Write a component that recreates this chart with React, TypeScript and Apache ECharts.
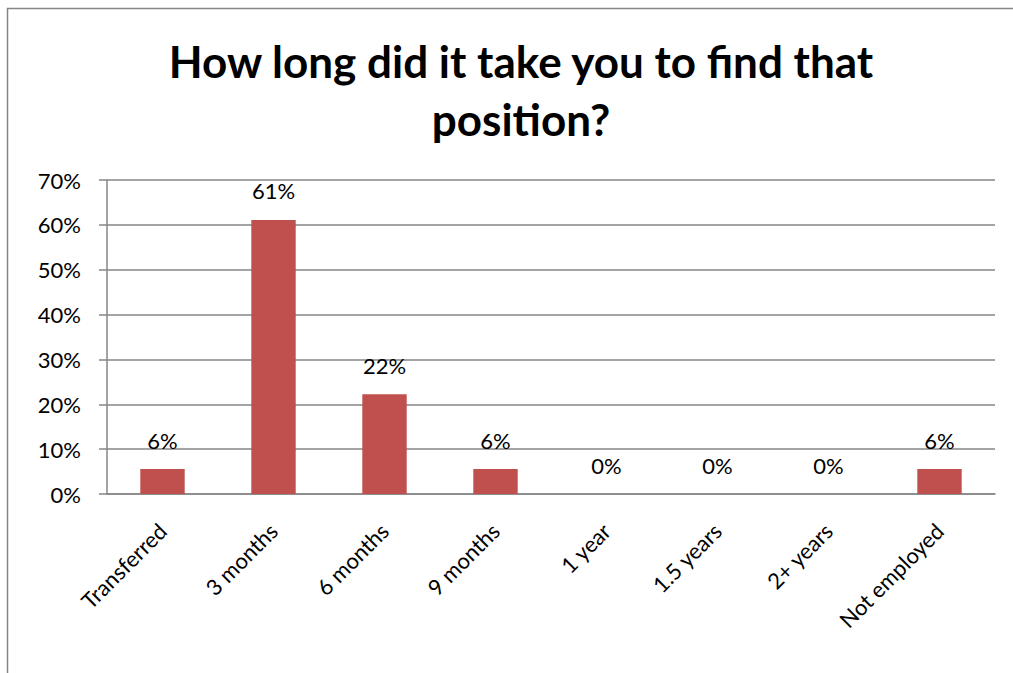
import React, { useEffect, useRef } from "react";
import * as echarts from "echarts";

const categories = ["Transferred", "3 months", "6 months", "9 months", "1 year", "1.5 years", "2+ years", "Not employed"];
const values = [5.56, 61.11, 22.22, 5.56, 0, 0, 0, 5.56];
const yTicks = [0, 10, 20, 30, 40, 50, 60, 70];
const titleText = "How long did it take you to find that\nposition?";

const FONT = "Lato, 'Open Sans', sans-serif";

export default function App() {
  const ref = useRef<HTMLDivElement>(null);
  useEffect(() => {
    if (!ref.current) return;
    const chart = echarts.init(ref.current, undefined, { renderer: "svg" });
    chart.setOption({
      animation: false,
      backgroundColor: "#ffffff",
      title: {
        text: titleText,
        left: 516,
        top: 27,
        textAlign: "center",
        textStyle: {
          fontFamily: FONT,
          fontWeight: "bold",
          fontSize: 44,
          lineHeight: 58,
          color: "#000000",
        },
      },
      graphic: [
        {
          type: "rect",
          shape: { x: 7.5, y: 8.5, width: 1100, height: 800 },
          style: { fill: "none", stroke: "#868686", lineWidth: 1.5 },
          silent: true,
          z: -1,
        },
      ],
      grid: { left: 107, right: 18, top: 180, bottom: 179, containLabel: false },
      xAxis: {
        type: "category",
        data: categories,
        axisLine: { show: true, lineStyle: { color: "#868686", width: 1.5 } },
        axisTick: { show: false },
        axisLabel: {
          rotate: 45,
          margin: 33,
          fontFamily: FONT,
          fontSize: 22,
          color: "#000000",
          interval: 0,
        },
      },
      yAxis: {
        type: "value",
        min: yTicks[0],
        max: yTicks[yTicks.length - 1],
        interval: 10,
        axisLine: { show: true, lineStyle: { color: "#868686", width: 1.5 } },
        axisTick: { show: true, length: 8, lineStyle: { color: "#868686", width: 1.5 } },
        splitLine: { show: true, lineStyle: { color: "#868686", width: 1.5 } },
        axisLabel: {
          formatter: (v: number) => `${v}%`,
          margin: 26,
          fontFamily: FONT,
          fontSize: 22,
          color: "#000000",
        },
      },
      series: [
        {
          type: "bar",
          data: values,
          barWidth: "40%",
          itemStyle: { color: "#C0504D" },
          label: {
            show: true,
            position: "top",
            distance: 18,
            formatter: (p: any) => `${Math.round(p.value)}%`,
            fontFamily: FONT,
            fontSize: 22,
            color: "#000000",
          },
        },
      ],
    });
    return () => chart.dispose();
  }, []);
  return (
    <div
      ref={ref}
      style={{ position: "absolute", left: 0, top: 0, width: 1013, height: 673 }}
    />
  );
}
